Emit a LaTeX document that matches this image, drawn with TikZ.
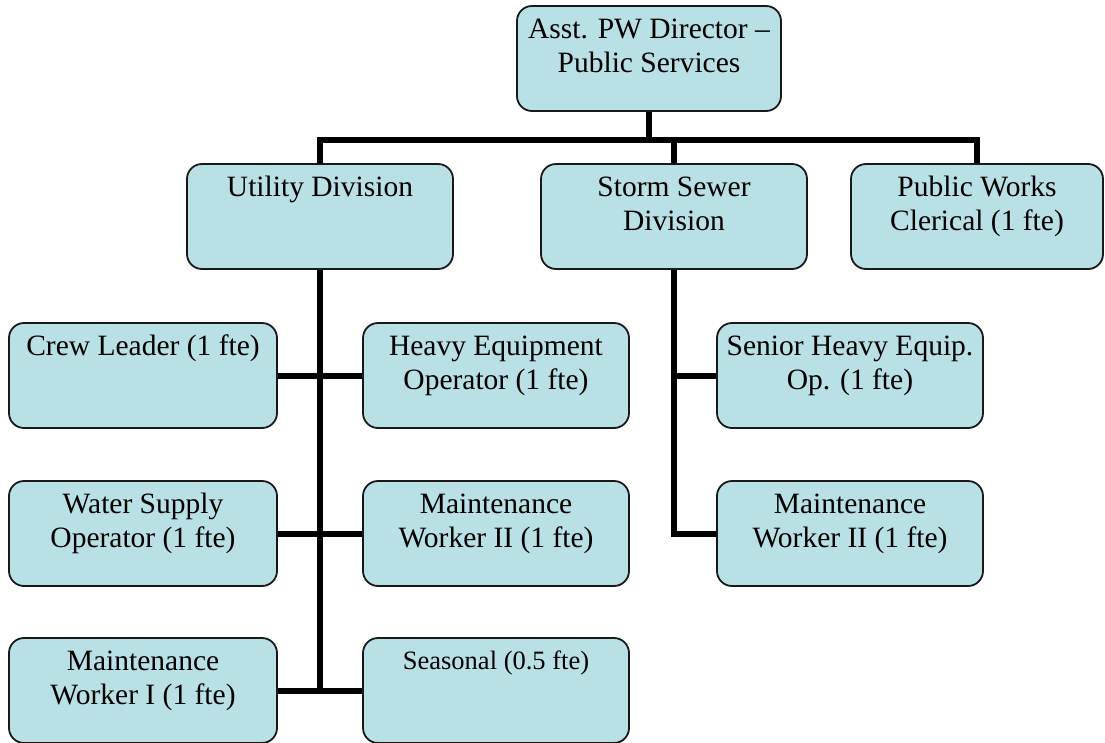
\documentclass[tikz,border=0pt]{standalone}
\usepackage{fontspec}
\setmainfont{Liberation Serif}
\definecolor{boxfill}{RGB}{185,224,228}
\begin{document}
\begin{tikzpicture}[x=1pt, y=-1pt]
    \tikzstyle{unit}=[rectangle, draw=black!90, line width=1.8pt, fill=boxfill,
                      rounded corners=15pt, minimum width=266pt, minimum height=105pt]
    \tikzstyle{boxtext}=[anchor=north, align=center, inner sep=0pt, yshift=-9pt,
                      font=\fontsize{29.5}{34}\selectfont]
    \tikzstyle{link}=[line width=6pt, black]
    \useasboundingbox (0,0) rectangle (1105,742);

    % top of the chart and the three divisions
    \node[unit, minimum width=264pt, label={[boxtext]north:{\strut Asst. PW Director --\\Public Services}}] (dir) at (649,58.5) {};
    \node[unit, label={[boxtext]north:{\strut Utility Division}}] (util) at (320,216.5) {};
    \node[unit, label={[boxtext]north:{\strut Storm Sewer\\Division}}] (storm) at (674,216.5) {};
    \node[unit, minimum width=252pt, label={[boxtext]north:{\strut Public Works\\Clerical (1 fte)}}] (clerk) at (977,216.5) {};

    % utility staff
    \node[unit, minimum width=268pt, label={[boxtext]north:{\strut Crew Leader (1 fte)}}] (crew) at (143,375.5) {};
    \node[unit, label={[boxtext]north:{\strut Heavy Equipment\\Operator (1 fte)}}] (heavy) at (496,375.5) {};
    \node[unit, minimum width=268pt, label={[boxtext]north:{\strut Water Supply\\Operator (1 fte)}}] (water) at (143,533.5) {};
    \node[unit, label={[boxtext]north:{\strut Maintenance\\Worker II (1 fte)}}] (mwu) at (496,533.5) {};
    \node[unit, minimum width=268pt, label={[boxtext]north:{\strut Maintenance\\Worker I (1 fte)}}] (mwi) at (143,690.5) {};
    \node[unit, label={[boxtext, yshift=-2pt, font=\fontsize{26.5}{30}\selectfont]north:{\strut Seasonal (0.5 fte)}}] (season) at (496,690.5) {};

    % storm sewer staff
    \node[unit, label={[boxtext]north:{\strut Senior Heavy Equip.\\Op. (1 fte)}}] (senior) at (850,375.5) {};
    \node[unit, label={[boxtext]north:{\strut Maintenance\\Worker II (1 fte)}}] (mws) at (850,533.5) {};

    \coordinate (bar) at (0,140);
    \draw[link] (dir.south) -- (dir.south |- bar);
    \draw[link] (util.north) -- (util.north |- bar) -| (clerk.north);
    \draw[link] (storm.north) -- (storm.north |- bar);

    \draw[link] (util.south) -- (util.south |- mwi.east);
    \draw[link] (crew.east) -- (heavy.west);
    \draw[link] (water.east) -- (mwu.west);
    \draw[link] (mwi.east) -- (season.west);

    \draw[link] (storm.south) |- (mws.west);
    \draw[link] (senior.west) -- (senior.west -| storm.south);
\end{tikzpicture}
\end{document}
